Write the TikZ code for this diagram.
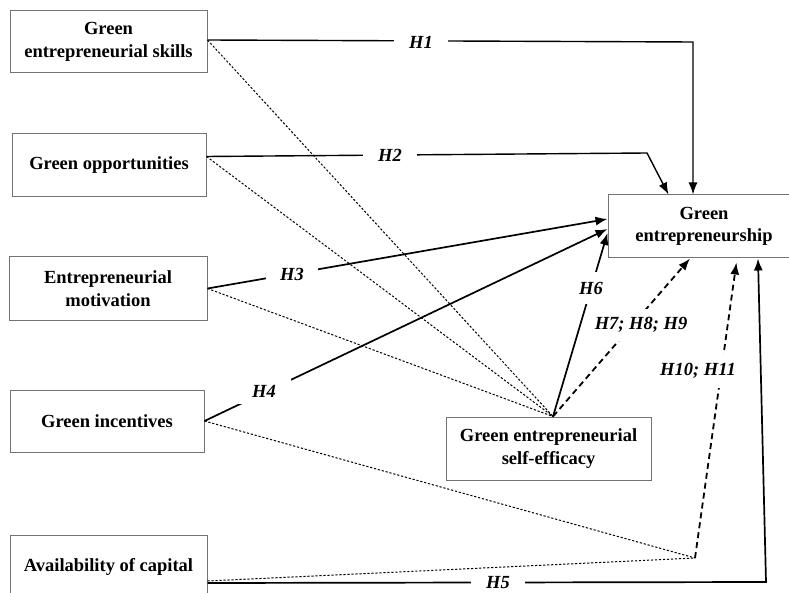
\documentclass[tikz,border=0pt]{standalone}
\usepackage{fontspec}
\setmainfont{Liberation Serif}
\usetikzlibrary{arrows.meta,calc}
\begin{document}
\begin{tikzpicture}[x=1pt,y=-1pt,
  box/.style={draw=black!55,line width=1pt,align=center,inner sep=0pt,font=\fontsize{18.5}{22.5}\selectfont\bfseries},
  hyp/.style={fill=white,inner sep=0pt,font=\fontsize{18.5}{22.5}\selectfont\bfseries\itshape},
  solidarrow/.style={line width=1.7pt,-{Latex[length=12pt,width=9pt]}},
  dasharrow/.style={line width=1.8pt,dash pattern=on 6pt off 4pt,-{Latex[length=12pt,width=9pt]}},
  dotline/.style={line width=1pt,dash pattern=on 2.2pt off 1.8pt},
]
\useasboundingbox (0,0) rectangle (789,593);
\clip (0,0) rectangle (789,593);

% boxes
\node[box,minimum width=197pt,minimum height=62pt] (skills) at (108.5,42) {Green\\entrepreneurial skills};
\node[box,minimum width=194pt,minimum height=63pt] (opps) at (109,165.5) {Green opportunities};
\node[box,minimum width=198pt,minimum height=63pt] (mot) at (108,288.5) {Entrepreneurial\\motivation};
\node[box,minimum width=194pt,minimum height=62pt] (inc) at (107,421) {Green incentives};
\node[box,minimum width=197pt,minimum height=64pt] (cap) at (108.5,567) {Availability of capital};
\node[box,minimum width=192pt,minimum height=63pt] (ge) at (704,226.5) {Green\\entrepreneurship};
\node[box,minimum width=205pt,minimum height=63pt] (se) at (548.5,448.5) {Green entrepreneurial\\self-efficacy};

% helper coordinates
\coordinate (apex) at ([xshift=4.5pt]se.north);
\coordinate (c1) at (693,42);
\coordinate (c2) at (647,153);
\coordinate (c10) at (695,558);
\coordinate (c5) at (766,582);

% dotted mediation lines
\draw[dotline] ([yshift=2pt]skills.east) -- (apex);
\draw[dotline] ([yshift=9pt]opps.east) -- (apex);
\draw[dotline] (mot.east) -- (apex);
\draw[dotline] (inc.east) -- (c10);
\draw[dotline] ([yshift=-14pt]cap.east) -- (c10);

% direct effects
\draw[solidarrow,line width=1.4pt] ([yshift=2pt]skills.east) -- (c1) -- (c1 |- ge.north);
\draw[solidarrow,line width=1.4pt] ([yshift=9pt]opps.east) -- (c2) -- ([xshift=61pt]ge.north west);
\draw[solidarrow] (mot.east) -- ([yshift=7.5pt]ge.west);
\draw[solidarrow] (inc.east) -- ([yshift=-2.5pt]ge.west);
\draw[solidarrow] (apex) -- ([yshift=-6.5pt]ge.west);
\draw[solidarrow] ([yshift=-16pt]cap.east) -- (c5) -- ([xshift=54pt]ge.south);

% mediated / moderated effects
\draw[dasharrow] (apex) -- ([xshift=-14pt]ge.south);
\draw[dasharrow,shorten >=4pt] (c10) -- ([xshift=33pt]ge.south);

% labels
\node[hyp,inner xsep=15pt,inner ysep=3pt] (h1) at (421,42) {H1};
\node[hyp,inner xsep=15pt,inner ysep=3pt] (h2) at (390,155) {H2};
\node[hyp,inner xsep=14pt,inner ysep=4pt] (h3) at (292,274) {H3};
\node[hyp,inner xsep=15pt,inner ysep=7pt] (h4) at (264,391) {H4};
\node[hyp,inner xsep=15pt,inner ysep=2pt] (h5) at (498,583) {H5};
\node[hyp,inner xsep=3pt,inner ysep=10pt] (h6) at (591,288) {H6};
\node[hyp,inner xsep=2pt,inner ysep=8.5pt] (h7) at (641,325) {H7; H8; H9};
\node[hyp,inner xsep=2pt,inner ysep=9pt] (h10) at (698,371) {H10; H11};
\end{tikzpicture}
\end{document}
